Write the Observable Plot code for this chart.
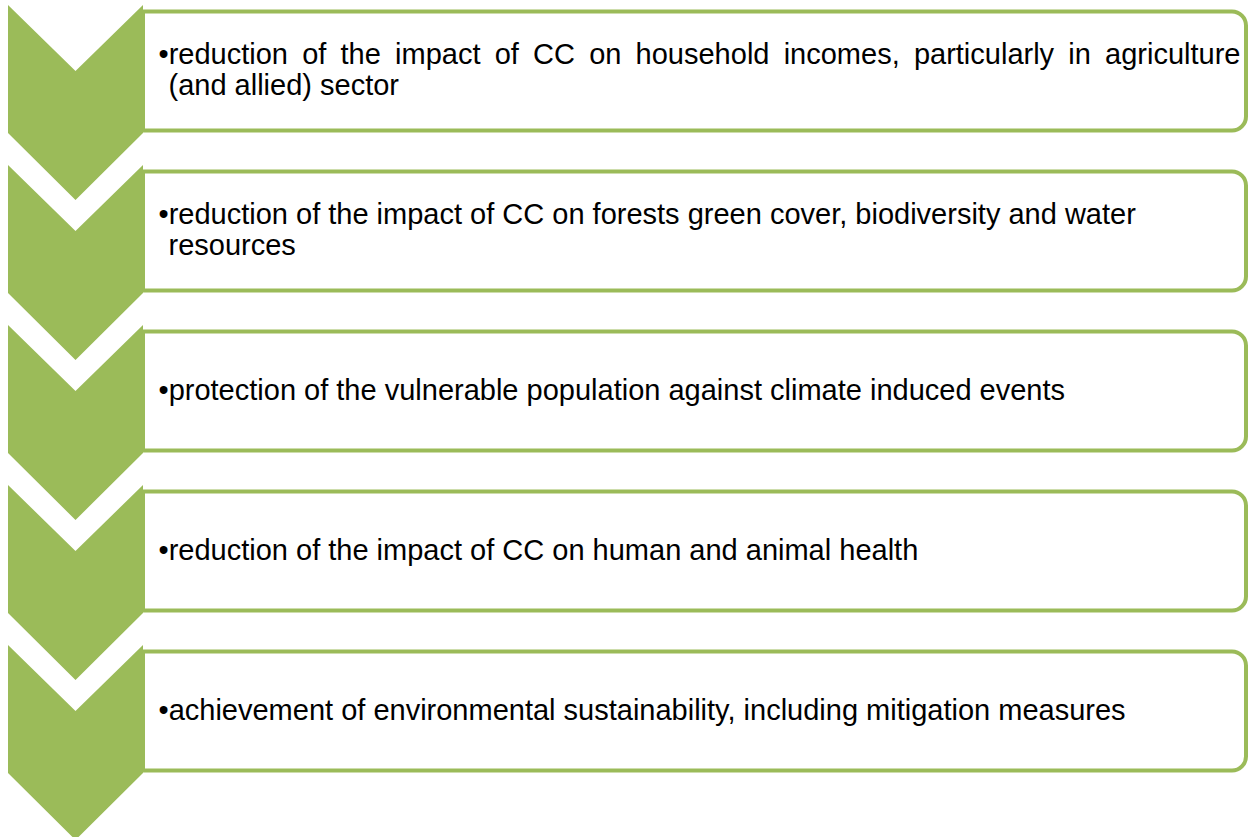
<!DOCTYPE html>
<html><head><meta charset="utf-8">
<script src="https://cdn.jsdelivr.net/npm/d3@7"></script>
<script src="https://cdn.jsdelivr.net/npm/@observablehq/plot@0.6"></script>
<style>html,body{margin:0;padding:0;background:#fff;} svg{display:block;}</style>
</head><body><div id="chart"></div>
<script>
// ---- data ----
const stepIds = [1, 2, 3, 4, 5];
const stepLines = [
  ["reduction of the impact of CC on household incomes, particularly in agriculture", "(and allied) sector"],
  ["reduction of the impact of CC on forests green cover, biodiversity and water", "resources"],
  ["protection of the vulnerable population against climate induced events"],
  ["reduction of the impact of CC on human and animal health"],
  ["achievement of environmental sustainability, including mitigation measures"]
];
const justifiedFirstLine = [true, false, false, false, false];

// ---- geometry / style ----
const W = 1249, H = 837;
const pitch = 160, top0 = 5;
const chevX1 = 8, chevX2 = 143, notch = 66, side = 128, tip = 195;
const boxX2 = 1246, boxTop = 6.5, boxBottom = 125.5;
const green = "#9bbb59";
const font = 29, lineGap = 31;
const textX = 158, indentX = 168, textRight = 1240;

const chevData = stepIds.flatMap((s, i) => {
  const t = top0 + pitch * i;
  return [
    {s, x: chevX1, y1: t, y2: t + side},
    {s, x: (chevX1 + chevX2) / 2, y1: t + notch, y2: t + tip},
    {s, x: chevX2, y1: t, y2: t + side}
  ];
});
const boxData = stepIds.map((s, i) => ({s, y1: top0 + pitch * i + boxTop, y2: top0 + pitch * i + boxBottom}));
const textRows = stepIds.flatMap((s, i) => {
  const lines = stepLines[i];
  const c = top0 + pitch * i + (boxTop + boxBottom) / 2 - 1;
  return lines.map((t, j) => ({
    s, j, text: (j === 0 ? "\u2022" : "") + t,
    x: j === 0 ? textX : indentX,
    y: c + (j - (lines.length - 1) / 2) * lineGap,
    justify: j === 0 && justifiedFirstLine[i] && lines.length > 1
  }));
});

const textOpts = {
  x: "x", y: "y", text: "text", textAnchor: "start", lineAnchor: "middle",
  fontSize: font, fontFamily: "Liberation Sans, Arial, sans-serif", fill: "#000"
};

const svg = Plot.plot({
  width: W, height: H,
  marginTop: 0, marginRight: 0, marginBottom: 0, marginLeft: 0,
  x: {domain: [0, W], range: [0, W], axis: null},
  y: {domain: [0, H], range: [0, H], axis: null},
  style: {background: "#fff"},
  marks: [
    Plot.rect(boxData, {x1: () => chevX2, x2: () => boxX2, y1: "y1", y2: "y2",
      fill: "#fff", stroke: green, strokeWidth: 4, rx2: 14}),
    Plot.areaY(chevData, {x: "x", y1: "y1", y2: "y2", z: "s", fill: green, curve: "linear"}),
    Plot.text(textRows.filter(d => !d.justify), {...textOpts, className: "plain"}),
    Plot.text(textRows.filter(d => d.justify), {...textOpts, className: "justify"})
  ]
});
document.getElementById("chart").append(svg);

svg.querySelectorAll('.justify text').forEach(el => {
  const w = el.getComputedTextLength();
  const n = (el.textContent.match(/ /g) || []).length;
  const target = textRight - textX;
  if (n > 0 && target > w) el.setAttribute("word-spacing", (target - w) / n);
});
</script>
</body></html>
